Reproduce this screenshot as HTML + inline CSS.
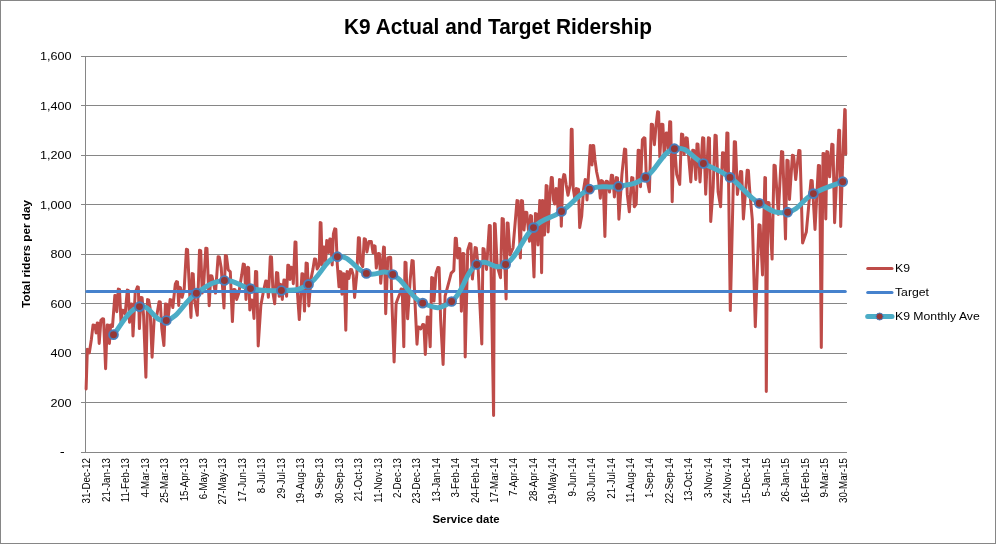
<!DOCTYPE html><html><head><meta charset="utf-8"><style>html,body{margin:0;padding:0;background:#fff;overflow:hidden}svg{display:block;will-change:transform}text{font-family:"Liberation Sans",sans-serif}</style></head><body>
<svg width="996" height="544" viewBox="0 0 996 544">
<rect x="0" y="0" width="996" height="544" fill="#fff"/>
<rect x="0.5" y="0.5" width="995" height="543" fill="none" stroke="#868686" stroke-width="1"/>
<line x1="81" y1="452.5" x2="847" y2="452.5" stroke="#868686" stroke-width="1"/>
<line x1="81" y1="402.5" x2="847" y2="402.5" stroke="#868686" stroke-width="1"/>
<line x1="81" y1="353.5" x2="847" y2="353.5" stroke="#868686" stroke-width="1"/>
<line x1="81" y1="303.5" x2="847" y2="303.5" stroke="#868686" stroke-width="1"/>
<line x1="81" y1="254.5" x2="847" y2="254.5" stroke="#868686" stroke-width="1"/>
<line x1="81" y1="204.5" x2="847" y2="204.5" stroke="#868686" stroke-width="1"/>
<line x1="81" y1="155.5" x2="847" y2="155.5" stroke="#868686" stroke-width="1"/>
<line x1="81" y1="105.5" x2="847" y2="105.5" stroke="#868686" stroke-width="1"/>
<line x1="81" y1="56.5" x2="847" y2="56.5" stroke="#868686" stroke-width="1"/>
<line x1="85.5" y1="56" x2="85.5" y2="453" stroke="#868686" stroke-width="1"/>
<rect x="60.5" y="452" width="3.5" height="1" fill="#000"/>
<text transform="translate(71.6,406.7) scale(1.1,1)" font-size="11.5" text-anchor="end" fill="#000">200</text>
<text transform="translate(71.6,357.2) scale(1.1,1)" font-size="11.5" text-anchor="end" fill="#000">400</text>
<text transform="translate(71.6,307.7) scale(1.1,1)" font-size="11.5" text-anchor="end" fill="#000">600</text>
<text transform="translate(71.6,258.2) scale(1.1,1)" font-size="11.5" text-anchor="end" fill="#000">800</text>
<text transform="translate(71.6,208.7) scale(1.1,1)" font-size="11.5" text-anchor="end" fill="#000">1,000</text>
<text transform="translate(71.6,159.2) scale(1.1,1)" font-size="11.5" text-anchor="end" fill="#000">1,200</text>
<text transform="translate(71.6,109.7) scale(1.1,1)" font-size="11.5" text-anchor="end" fill="#000">1,400</text>
<text transform="translate(71.6,60.2) scale(1.1,1)" font-size="11.5" text-anchor="end" fill="#000">1,600</text>
<text transform="translate(90.45,458) rotate(-90) scale(0.93,1)" font-size="10.5" text-anchor="end">31-Dec-12</text>
<text transform="translate(109.86,458) rotate(-90) scale(0.93,1)" font-size="10.5" text-anchor="end">21-Jan-13</text>
<text transform="translate(129.27,458) rotate(-90) scale(0.93,1)" font-size="10.5" text-anchor="end">11-Feb-13</text>
<text transform="translate(148.68,458) rotate(-90) scale(0.93,1)" font-size="10.5" text-anchor="end">4-Mar-13</text>
<text transform="translate(168.09,458) rotate(-90) scale(0.93,1)" font-size="10.5" text-anchor="end">25-Mar-13</text>
<text transform="translate(187.50,458) rotate(-90) scale(0.93,1)" font-size="10.5" text-anchor="end">15-Apr-13</text>
<text transform="translate(206.91,458) rotate(-90) scale(0.93,1)" font-size="10.5" text-anchor="end">6-May-13</text>
<text transform="translate(226.32,458) rotate(-90) scale(0.93,1)" font-size="10.5" text-anchor="end">27-May-13</text>
<text transform="translate(245.73,458) rotate(-90) scale(0.93,1)" font-size="10.5" text-anchor="end">17-Jun-13</text>
<text transform="translate(265.14,458) rotate(-90) scale(0.93,1)" font-size="10.5" text-anchor="end">8-Jul-13</text>
<text transform="translate(284.55,458) rotate(-90) scale(0.93,1)" font-size="10.5" text-anchor="end">29-Jul-13</text>
<text transform="translate(303.96,458) rotate(-90) scale(0.93,1)" font-size="10.5" text-anchor="end">19-Aug-13</text>
<text transform="translate(323.37,458) rotate(-90) scale(0.93,1)" font-size="10.5" text-anchor="end">9-Sep-13</text>
<text transform="translate(342.78,458) rotate(-90) scale(0.93,1)" font-size="10.5" text-anchor="end">30-Sep-13</text>
<text transform="translate(362.19,458) rotate(-90) scale(0.93,1)" font-size="10.5" text-anchor="end">21-Oct-13</text>
<text transform="translate(381.60,458) rotate(-90) scale(0.93,1)" font-size="10.5" text-anchor="end">11-Nov-13</text>
<text transform="translate(401.01,458) rotate(-90) scale(0.93,1)" font-size="10.5" text-anchor="end">2-Dec-13</text>
<text transform="translate(420.42,458) rotate(-90) scale(0.93,1)" font-size="10.5" text-anchor="end">23-Dec-13</text>
<text transform="translate(439.83,458) rotate(-90) scale(0.93,1)" font-size="10.5" text-anchor="end">13-Jan-14</text>
<text transform="translate(459.24,458) rotate(-90) scale(0.93,1)" font-size="10.5" text-anchor="end">3-Feb-14</text>
<text transform="translate(478.66,458) rotate(-90) scale(0.93,1)" font-size="10.5" text-anchor="end">24-Feb-14</text>
<text transform="translate(498.07,458) rotate(-90) scale(0.93,1)" font-size="10.5" text-anchor="end">17-Mar-14</text>
<text transform="translate(517.48,458) rotate(-90) scale(0.93,1)" font-size="10.5" text-anchor="end">7-Apr-14</text>
<text transform="translate(536.89,458) rotate(-90) scale(0.93,1)" font-size="10.5" text-anchor="end">28-Apr-14</text>
<text transform="translate(556.30,458) rotate(-90) scale(0.93,1)" font-size="10.5" text-anchor="end">19-May-14</text>
<text transform="translate(575.71,458) rotate(-90) scale(0.93,1)" font-size="10.5" text-anchor="end">9-Jun-14</text>
<text transform="translate(595.12,458) rotate(-90) scale(0.93,1)" font-size="10.5" text-anchor="end">30-Jun-14</text>
<text transform="translate(614.53,458) rotate(-90) scale(0.93,1)" font-size="10.5" text-anchor="end">21-Jul-14</text>
<text transform="translate(633.94,458) rotate(-90) scale(0.93,1)" font-size="10.5" text-anchor="end">11-Aug-14</text>
<text transform="translate(653.35,458) rotate(-90) scale(0.93,1)" font-size="10.5" text-anchor="end">1-Sep-14</text>
<text transform="translate(672.76,458) rotate(-90) scale(0.93,1)" font-size="10.5" text-anchor="end">22-Sep-14</text>
<text transform="translate(692.17,458) rotate(-90) scale(0.93,1)" font-size="10.5" text-anchor="end">13-Oct-14</text>
<text transform="translate(711.58,458) rotate(-90) scale(0.93,1)" font-size="10.5" text-anchor="end">3-Nov-14</text>
<text transform="translate(730.99,458) rotate(-90) scale(0.93,1)" font-size="10.5" text-anchor="end">24-Nov-14</text>
<text transform="translate(750.40,458) rotate(-90) scale(0.93,1)" font-size="10.5" text-anchor="end">15-Dec-14</text>
<text transform="translate(769.81,458) rotate(-90) scale(0.93,1)" font-size="10.5" text-anchor="end">5-Jan-15</text>
<text transform="translate(789.22,458) rotate(-90) scale(0.93,1)" font-size="10.5" text-anchor="end">26-Jan-15</text>
<text transform="translate(808.63,458) rotate(-90) scale(0.93,1)" font-size="10.5" text-anchor="end">16-Feb-15</text>
<text transform="translate(828.04,458) rotate(-90) scale(0.93,1)" font-size="10.5" text-anchor="end">9-Mar-15</text>
<text transform="translate(847.45,458) rotate(-90) scale(0.93,1)" font-size="10.5" text-anchor="end">30-Mar-15</text>
<text x="498" y="33.6" font-size="22" font-weight="bold" text-anchor="middle" textLength="308" lengthAdjust="spacingAndGlyphs">K9 Actual and Target Ridership</text>
<text transform="translate(29.5,254) rotate(-90)" font-size="11" font-weight="bold" text-anchor="middle" textLength="108" lengthAdjust="spacingAndGlyphs">Total riders per day</text>
<text x="466" y="522.9" font-size="11" font-weight="bold" text-anchor="middle" textLength="67" lengthAdjust="spacingAndGlyphs">Service date</text>
<polyline points="86.10,388.9 87.35,349.3 88.25,349.6 89.30,352.9 91.40,339.2 93.05,325.0 93.95,325.3 95.00,325.5 96.10,332.9 97.25,322.9 98.15,323.2 99.20,343.4 100.90,320.2 102.40,318.7 103.60,319.0 105.60,368.8 107.19,325.0 108.21,325.3 109.40,343.4 110.68,325.0 111.52,325.3 112.50,326.5 114.85,295.4 115.75,295.7 116.80,311.7 118.30,289.1 119.50,289.4 121.00,322.3 122.50,310.2 123.70,310.5 125.20,313.8 127.29,290.1 128.31,290.4 129.50,322.3 131.18,303.9 132.02,304.2 133.00,336.0 135.20,292.7 137.45,286.9 138.35,287.2 139.40,328.6 140.90,297.5 142.10,297.8 143.60,315.9 145.90,377.3 147.53,299.6 148.67,299.9 150.00,307.5 152.10,357.2 154.20,318.1 156.90,314.9 159.10,301.7 160.30,302.0 161.80,328.6 163.90,345.5 165.40,303.9 166.60,304.2 168.10,318.1 170.10,299.6 171.30,299.9 172.80,307.5 175.30,284.2 176.49,281.6 177.51,281.9 178.70,305.4 179.61,287.3 180.39,287.6 182.10,297.3 184.20,288.9 186.43,249.3 187.57,249.6 188.90,278.3 191.00,317.4 192.19,273.6 193.21,273.9 194.40,299.4 197.30,315.3 199.50,250.3 200.70,250.6 202.20,293.1 203.70,284.6 205.80,248.2 207.00,248.5 209.20,305.8 210.70,275.7 211.90,276.0 213.40,282.5 215.50,293.1 218.10,256.7 219.30,257.0 221.20,267.7 224.00,307.9 225.33,255.6 226.47,255.9 228.20,269.8 230.30,271.9 232.40,321.6 233.90,289.5 235.10,289.8 236.70,299.4 238.80,293.1 241.70,275.1 243.20,264.1 244.40,264.4 246.00,299.4 247.59,267.3 248.61,267.6 249.80,310.0 251.30,300.0 252.50,300.3 254.00,318.5 255.50,271.5 256.70,271.8 258.20,345.9 260.80,305.8 263.50,291.0 265.70,281.0 266.90,281.3 268.40,297.3 270.30,256.7 271.50,257.0 273.00,293.1 274.70,303.7 276.50,272.6 277.70,272.9 279.20,296.3 280.25,284.3 281.15,284.6 282.30,299.5 283.90,280.0 285.10,280.3 286.60,296.3 287.79,265.2 288.81,265.5 290.00,279.4 291.48,267.3 292.32,267.6 293.30,283.7 295.02,242.0 295.98,242.3 297.10,287.9 299.30,319.6 300.90,292.1 301.95,273.7 302.85,274.0 304.50,311.1 306.10,263.1 307.30,263.4 308.80,305.9 310.90,279.4 313.00,268.9 314.50,258.9 315.70,259.2 317.20,268.9 319.30,265.0 320.21,222.6 320.99,222.9 322.20,265.0 323.65,246.9 324.55,247.2 325.60,261.9 326.74,240.6 327.66,240.9 328.75,252.5 329.84,239.0 330.76,239.3 332.20,265.0 333.40,234.0 334.73,228.9 335.87,229.2 337.30,264.6 339.00,286.8 340.05,271.6 340.95,271.9 342.00,294.2 343.19,273.7 344.21,274.0 345.80,330.2 347.08,271.6 347.92,271.9 348.90,278.4 350.50,269.5 351.70,269.8 353.20,275.2 354.60,297.4 356.80,274.1 358.39,237.7 359.41,238.0 360.60,262.5 362.70,266.7 364.20,238.8 365.40,239.1 366.90,251.9 369.00,241.4 371.30,241.4 373.00,252.8 374.12,245.8 375.08,246.1 376.30,268.1 378.36,253.4 379.44,253.7 380.70,283.3 382.70,259.2 383.61,247.1 384.39,247.4 385.70,313.8 387.80,257.9 389.91,257.2 390.69,257.5 391.60,293.5 394.10,362.0 396.10,303.6 397.90,298.5 399.90,293.5 401.16,289.0 402.24,289.3 403.80,346.8 404.99,262.3 406.01,262.6 407.60,318.8 410.10,280.8 412.00,260.6 413.20,260.9 415.20,306.1 417.00,344.2 418.19,327.0 419.21,327.3 420.80,329.0 422.70,324.5 423.90,324.8 425.30,354.4 427.30,316.9 428.50,317.2 430.20,346.8 431.66,277.6 432.74,277.9 434.00,301.1 436.00,273.1 437.90,267.4 439.10,267.7 440.60,318.8 443.10,364.5 445.10,296.0 447.20,288.4 449.20,280.8 451.20,273.1 453.80,270.6 455.26,238.2 456.34,238.5 457.60,257.9 458.79,248.4 459.81,248.7 461.40,311.2 462.86,253.4 463.94,253.7 465.20,357.0 467.70,250.3 469.70,243.6 470.90,243.9 472.40,279.0 475.10,247.6 476.30,247.9 478.00,265.0 481.80,344.0 482.99,248.6 484.01,248.9 486.50,269.4 489.32,225.4 490.28,225.7 491.40,289.0 493.60,415.5 494.44,223.6 495.16,223.9 497.20,266.0 500.50,277.7 502.10,218.6 503.30,218.9 505.00,270.0 506.10,299.0 507.15,222.9 508.05,223.2 510.00,255.0 513.00,248.0 515.40,219.8 517.00,200.6 518.20,200.9 520.40,257.9 521.52,200.6 522.48,200.9 524.00,230.0 525.60,212.2 526.80,212.5 529.50,241.3 530.55,215.6 531.45,215.9 534.00,277.0 535.40,213.6 536.60,213.9 538.00,245.0 539.78,200.6 540.62,200.9 541.60,272.8 542.58,200.6 543.42,200.9 544.50,235.0 546.15,185.6 547.05,185.9 548.10,232.0 550.00,195.0 551.29,177.5 552.31,177.8 553.50,200.0 554.70,204.0 556.05,188.6 556.95,188.9 558.00,210.0 559.48,179.6 560.32,179.9 561.30,226.2 562.80,180.0 563.85,174.6 564.75,174.9 566.20,185.0 568.00,195.3 570.30,184.3 571.28,129.2 572.12,129.5 573.20,188.0 575.00,200.0 576.29,188.6 577.31,188.9 578.50,189.4 579.70,227.6 581.70,216.0 583.50,190.0 585.18,179.6 586.02,179.9 587.00,200.0 588.50,174.7 590.31,145.6 591.09,145.9 592.00,165.0 592.91,145.4 593.69,145.7 595.00,160.0 596.60,171.8 598.80,182.0 600.30,198.2 601.38,180.6 602.22,180.9 603.20,182.0 604.90,236.5 606.30,181.2 607.50,181.5 609.50,192.0 611.40,175.2 612.60,175.5 614.40,196.9 616.30,177.6 617.50,177.9 618.90,219.2 621.90,174.6 624.50,149.1 625.70,149.4 627.30,194.4 629.30,211.8 631.70,177.6 632.90,177.9 634.30,206.8 636.20,204.2 638.16,150.2 639.24,150.5 640.50,186.8 642.40,139.7 643.86,137.8 644.94,138.1 646.20,174.4 649.40,191.8 651.30,124.2 652.50,124.5 654.40,144.7 656.10,124.8 657.59,111.8 658.61,112.1 659.80,157.1 661.70,124.2 662.90,124.5 664.30,157.1 666.29,132.9 667.31,133.2 668.50,149.6 669.69,121.7 670.71,122.0 672.20,201.7 673.60,147.7 674.80,148.0 676.70,174.4 679.70,184.4 681.50,134.1 682.70,134.4 684.10,154.6 686.00,137.8 687.20,138.1 689.10,162.0 690.80,181.9 692.70,150.2 693.90,150.5 695.80,179.4 696.99,144.0 698.01,144.3 700.00,181.9 702.60,137.8 703.80,138.1 705.70,194.3 708.36,137.8 709.44,138.1 710.70,221.6 713.20,186.8 715.00,135.3 716.20,135.6 718.10,191.8 720.60,206.7 722.50,152.7 723.70,153.0 725.60,174.4 726.86,132.9 727.94,133.2 730.30,310.6 734.30,141.7 735.50,142.0 737.40,194.4 740.50,171.5 741.70,171.8 743.40,219.0 747.20,170.2 748.40,170.5 749.80,192.0 752.30,219.3 755.30,326.8 758.90,224.8 760.10,225.1 762.50,275.0 764.87,177.6 765.53,177.9 766.30,391.5 767.80,202.5 769.00,202.8 772.10,259.1 774.00,165.3 775.20,165.6 778.30,214.3 781.50,151.6 782.70,151.9 785.50,239.0 786.90,160.3 788.10,160.6 789.50,199.4 792.40,155.3 793.60,155.6 795.70,179.6 798.80,150.4 800.00,150.7 802.60,243.0 806.30,232.0 808.30,210.2 811.00,180.5 812.20,180.8 815.00,229.5 818.40,165.4 819.60,165.7 821.30,347.4 823.00,153.5 824.20,153.8 825.80,219.0 826.85,151.6 827.75,151.9 829.60,176.8 831.80,144.3 833.00,144.6 834.60,222.7 837.40,162.0 838.75,130.2 839.65,130.5 840.70,226.4 842.70,160.0 844.76,109.6 845.24,109.9 845.80,154.0" fill="none" stroke="#BE4B48" stroke-width="3" stroke-linejoin="round" stroke-linecap="round"/>
<line x1="86.8" y1="291.5" x2="845.3" y2="291.5" stroke="#4682CD" stroke-width="3" stroke-linecap="round"/>
<path d="M113.5,334.7 C119.2,328.5 127.9,309.7 139.5,306.6 C151.1,303.5 153.8,323.4 166.3,320.5 C178.8,317.6 183.6,302.0 196.4,293.2 C209.2,284.4 212.5,281.5 224.4,280.5 C236.3,279.5 238.0,286.4 250.5,288.6 C263.0,290.8 268.6,291.4 281.4,290.5 C294.2,289.6 296.2,291.8 308.5,284.4 C320.8,277.0 324.7,259.1 337.4,256.7 C350.1,254.3 354.2,269.5 366.4,273.4 C378.6,277.3 380.4,268.0 392.8,274.5 C405.2,281.0 409.8,297.2 422.7,303.1 C435.6,309.0 439.7,310.0 451.6,301.5 C463.5,293.0 464.8,272.6 476.7,264.5 C488.6,256.4 493.1,272.6 505.6,264.5 C518.1,256.4 521.2,239.3 533.5,227.6 C545.8,215.9 549.2,219.9 561.5,211.5 C573.8,203.1 576.9,194.7 589.5,189.2 C602.1,183.7 606.3,189.0 618.6,186.4 C630.9,183.8 633.3,185.7 645.6,177.4 C657.9,169.1 661.7,151.8 674.4,148.7 C687.1,145.6 691.2,157.2 703.4,163.5 C715.6,169.8 717.7,168.6 730.0,177.4 C742.3,186.2 746.6,195.6 759.3,203.3 C772.0,211.0 775.7,214.3 787.6,212.2 C799.5,210.1 801.3,200.3 813.4,193.6 C825.5,186.9 836.3,184.3 842.7,181.7" fill="none" stroke="#4BACC6" stroke-width="5" stroke-linejoin="round" stroke-linecap="round"/>
<circle cx="113.5" cy="334.7" r="4.4" fill="#953735" stroke="#4A7EBB" stroke-width="1.9"/>
<circle cx="139.5" cy="306.6" r="4.4" fill="#953735" stroke="#4A7EBB" stroke-width="1.9"/>
<circle cx="166.3" cy="320.5" r="4.4" fill="#953735" stroke="#4A7EBB" stroke-width="1.9"/>
<circle cx="196.4" cy="293.2" r="4.4" fill="#953735" stroke="#4A7EBB" stroke-width="1.9"/>
<circle cx="224.4" cy="280.5" r="4.4" fill="#953735" stroke="#4A7EBB" stroke-width="1.9"/>
<circle cx="250.5" cy="288.6" r="4.4" fill="#953735" stroke="#4A7EBB" stroke-width="1.9"/>
<circle cx="281.4" cy="290.5" r="4.4" fill="#953735" stroke="#4A7EBB" stroke-width="1.9"/>
<circle cx="308.5" cy="284.4" r="4.4" fill="#953735" stroke="#4A7EBB" stroke-width="1.9"/>
<circle cx="337.4" cy="256.7" r="4.4" fill="#953735" stroke="#4A7EBB" stroke-width="1.9"/>
<circle cx="366.4" cy="273.4" r="4.4" fill="#953735" stroke="#4A7EBB" stroke-width="1.9"/>
<circle cx="392.8" cy="274.5" r="4.4" fill="#953735" stroke="#4A7EBB" stroke-width="1.9"/>
<circle cx="422.7" cy="303.1" r="4.4" fill="#953735" stroke="#4A7EBB" stroke-width="1.9"/>
<circle cx="451.6" cy="301.5" r="4.4" fill="#953735" stroke="#4A7EBB" stroke-width="1.9"/>
<circle cx="476.7" cy="264.5" r="4.4" fill="#953735" stroke="#4A7EBB" stroke-width="1.9"/>
<circle cx="505.6" cy="264.5" r="4.4" fill="#953735" stroke="#4A7EBB" stroke-width="1.9"/>
<circle cx="533.5" cy="227.6" r="4.4" fill="#953735" stroke="#4A7EBB" stroke-width="1.9"/>
<circle cx="561.5" cy="211.5" r="4.4" fill="#953735" stroke="#4A7EBB" stroke-width="1.9"/>
<circle cx="589.5" cy="189.2" r="4.4" fill="#953735" stroke="#4A7EBB" stroke-width="1.9"/>
<circle cx="618.6" cy="186.4" r="4.4" fill="#953735" stroke="#4A7EBB" stroke-width="1.9"/>
<circle cx="645.6" cy="177.4" r="4.4" fill="#953735" stroke="#4A7EBB" stroke-width="1.9"/>
<circle cx="674.4" cy="148.7" r="4.4" fill="#953735" stroke="#4A7EBB" stroke-width="1.9"/>
<circle cx="703.4" cy="163.5" r="4.4" fill="#953735" stroke="#4A7EBB" stroke-width="1.9"/>
<circle cx="730.0" cy="177.4" r="4.4" fill="#953735" stroke="#4A7EBB" stroke-width="1.9"/>
<circle cx="759.3" cy="203.3" r="4.4" fill="#953735" stroke="#4A7EBB" stroke-width="1.9"/>
<circle cx="787.6" cy="212.2" r="4.4" fill="#953735" stroke="#4A7EBB" stroke-width="1.9"/>
<circle cx="813.4" cy="193.6" r="4.4" fill="#953735" stroke="#4A7EBB" stroke-width="1.9"/>
<circle cx="842.7" cy="181.7" r="4.4" fill="#953735" stroke="#4A7EBB" stroke-width="1.9"/>
<line x1="867.7" y1="268.5" x2="892" y2="268.5" stroke="#BE4B48" stroke-width="3" stroke-linecap="round"/>
<text transform="translate(895,272) scale(1.065,1)" font-size="11.5">K9</text>
<line x1="867.7" y1="292.5" x2="892" y2="292.5" stroke="#4682CD" stroke-width="3" stroke-linecap="round"/>
<text transform="translate(895,296) scale(1.065,1)" font-size="11.5">Target</text>
<line x1="867.7" y1="316.5" x2="892" y2="316.5" stroke="#4BACC6" stroke-width="5" stroke-linecap="round"/>
<circle cx="879.6" cy="316.5" r="3.5" fill="#953735" stroke="#4A7EBB" stroke-width="1"/>
<text transform="translate(895,320) scale(1.065,1)" font-size="11.5">K9 Monthly Ave</text>
</svg></body></html>
